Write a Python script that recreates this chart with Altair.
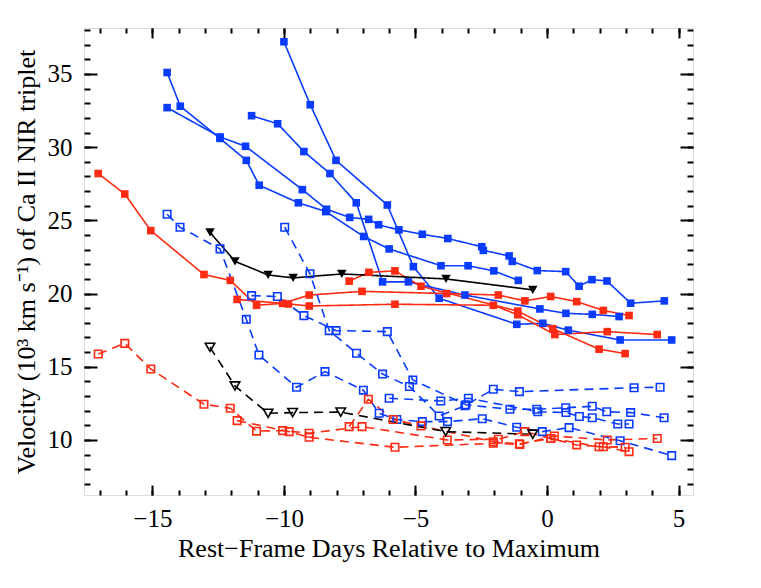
import altair as alt
import pandas as pd

# ---- blue, solid lines, filled squares ----
b1_day = [-14.44, -13.94, -12.43, -11.43, -10.94, -9.45, -8.41, -6.97, -6.0, -4.03, -3.0, -2.02, -1.09]
b1_vel = [35.1, 32.8, 30.6, 29.1, 27.4, 26.2, 25.6, 23.9, 23.05, 21.9, 21.9, 21.55, 20.9]
b2_day = [-14.44, -12.43, -11.46, -9.3, -8.38, -7.5, -6.78, -6.4, -5.63, -4.74, -3.77, -2.48, -2.42,
          -1.44, -1.32, -0.37, 0.71, 1.22, 1.71, 2.28, 3.18, 4.46]
b2_vel = [32.7, 30.7, 30.06, 27.1, 25.76, 25.2, 25.07, 24.7, 24.35, 24.05, 23.76, 23.2, 22.95,
          22.57, 22.2, 21.57, 21.5, 20.5, 20.95, 20.86, 19.34, 19.5]
b3_day = [-11.23, -10.24, -9.24, -8.25, -7.25, -6.25, -5.27, -3.12, -0.27, 0.72, 1.72, 2.74]
b3_vel = [32.15, 31.6, 29.7, 28.2, 26.2, 20.8, 20.8, 19.9, 18.95, 18.65, 18.58, 18.43]
b4_day = [-10.0, -9.0, -8.02, -6.07, -5.08, -4.1, -1.15, -0.16, 0.81, 2.78, 4.74]
b4_vel = [37.2, 32.9, 29.1, 26.05, 21.84, 19.68, 17.9, 17.97, 17.5, 16.83, 16.83]

# ---- red, solid lines, filled squares ----
ra_day = [-17.06, -16.05, -15.06, -13.04, -12.04, -11.04, -10.05, -9.04, -7.03, -3.81, -1.85, -0.84,
          0.14, 1.13, 2.14, 3.12]
ra_vel = [28.2, 26.8, 24.3, 21.3, 20.9, 19.2, 19.33, 19.9, 20.15, 20.0, 19.9, 19.5,
          19.8, 19.45, 18.85, 18.5]
rb_day = [-11.78, -9.83, -9.04, -5.78, -2.04, -1.11, 0.3, 2.29, 4.19]
rb_vel = [19.6, 19.29, 19.15, 19.27, 19.2, 18.55, 17.2, 17.4, 17.2]
rc_day = [-7.52, -6.77, -5.78, -4.79, -1.11, 0.22, 1.98, 2.97]
rc_vel = [20.85, 21.45, 21.55, 20.5, 18.8, 17.6, 16.2, 15.9]

# ---- blue, dashed lines, open squares ----
bda_day = [-14.44, -13.95, -12.43, -11.43, -10.95, -9.52, -8.44, -6.98, -6.38, -5.71, -4.74, -3.78,
           -2.46, -1.15, -0.18, 0.84, 2.78, 4.74]
bda_vel = [25.42, 24.53, 23.05, 18.24, 15.8, 13.6, 14.67, 13.4, 11.82, 11.4, 11.25, 11.25,
           11.45, 10.87, 10.57, 10.84, 9.95, 8.93]
bdb_day = [-9.97, -9.01, -8.28, -7.24, -6.25, -5.23, -4.1, -3.12, -2.04, -1.05, 3.31, 4.3]
bdb_vel = [24.53, 21.35, 17.47, 15.92, 14.5, 13.65, 11.64, 12.34, 13.46, 13.3, 13.57, 13.6]
bdc_day = [-11.23, -10.25, -9.24, -8.02, -6.07, -5.1, -3.08, -1.41, -0.39, 0.71, 1.72, 2.27, 3.18, 4.45]
bdc_vel = [19.86, 19.8, 18.49, 17.47, 17.4, 14.1, 12.4, 12.1, 12.1, 12.2, 12.3, 11.93, 11.87, 11.52]
bdd_day = [-6.0, -4.04, -2.99, -0.35, 0.72, 1.23, 1.72, 2.69, 3.12]
bdd_vel = [12.85, 12.66, 12.85, 11.93, 11.87, 11.6, 11.52, 11.09, 11.09]

# ---- red, dashed lines, open squares ----
rda_day = [-17.06, -16.05, -15.06, -13.04, -12.04, -11.04, -10.05, -9.04, -7.03, -3.79, -1.85, -0.84,
           0.14, 1.13, 2.14, 3.12]
rda_vel = [15.87, 16.6, 14.85, 12.44, 12.17, 10.6, 10.64, 10.46, 10.91, 10.0, 10.05, 10.57,
           10.1, 9.66, 9.54, 9.2]
rdb_day = [-11.78, -9.8, -9.04, -5.78, -2.04, -1.03, 0.28, 2.29, 4.19]
rdb_vel = [11.32, 10.57, 10.18, 9.5, 9.77, 9.7, 10.27, 10.0, 10.1]
rdc_day = [-7.52, -6.79, -5.85, -4.79, -2.04, -1.05, 0.15, 1.98, 2.97]
rdc_vel = [10.91, 12.78, 11.4, 10.96, 9.88, 9.73, 10.1, 9.54, 9.5]

# ---- black, triangles ----
ks_day = [-12.81, -11.86, -10.6, -9.65, -7.8, -3.84, -0.54]
ks_vel = [24.18, 22.2, 21.27, 21.07, 21.34, 21.0, 20.25]
kd_day = [-12.81, -11.86, -10.6, -9.67, -7.84, -3.85, -0.54]
kd_vel = [16.33, 13.69, 11.82, 11.87, 11.9, 10.57, 10.39]

x_major = [-15, -10, -5, 0, 5]
x_minor = list(range(-17, 6))
y_major = [10, 15, 20, 25, 30, 35]
y_minor = list(range(7, 39))

series = [
    ("b1", "blue", "solid", b1_day, b1_vel), ("b2", "blue", "solid", b2_day, b2_vel),
    ("b3", "blue", "solid", b3_day, b3_vel), ("b4", "blue", "solid", b4_day, b4_vel),
    ("ra", "red", "solid", ra_day, ra_vel), ("rb", "red", "solid", rb_day, rb_vel),
    ("rc", "red", "solid", rc_day, rc_vel),
    ("bda", "blue", "dashed", bda_day, bda_vel), ("bdb", "blue", "dashed", bdb_day, bdb_vel),
    ("bdc", "blue", "dashed", bdc_day, bdc_vel), ("bdd", "blue", "dashed", bdd_day, bdd_vel),
    ("rda", "red", "dashed", rda_day, rda_vel), ("rdb", "red", "dashed", rdb_day, rdb_vel),
    ("rdc", "red", "dashed", rdc_day, rdc_vel),
    ("ks", "black", "solid", ks_day, ks_vel), ("kd", "black", "dashed", kd_day, kd_vel),
]
rows = []
for name, col, sty, days, vels in series:
    for i, (d, v) in enumerate(zip(days, vels)):
        rows.append(dict(s=name, c=col, k=sty, i=i, day=d, vel=v))
df = pd.DataFrame(rows)

FONT = "Liberation Serif"
xs = alt.Scale(domain=[-17.6, 5.55], nice=False, zero=False)
ys = alt.Scale(domain=[6.24, 38.14], nice=False, zero=False)
cs = alt.Scale(domain=["blue", "red", "black"], range=["#0a3cff", "#ff2a12", "#000000"])
ds = alt.Scale(domain=["solid", "dashed"], range=[[1, 0], [9, 6]])

base = alt.Chart(df)

lines = base.mark_line(strokeWidth=1.6, clip=True).encode(
    x=alt.X("day:Q", scale=xs, axis=alt.Axis(
        orient="bottom", values=x_major, ticks=False, tickSize=0, domain=False, grid=False,
        labelFont=FONT, labelFontSize=25, labelColor="black", labelPadding=11,
        title="Rest\u2212Frame Days Relative to Maximum", titleFont=FONT, titleFontSize=26,
        titleFontWeight="normal", titleColor="black", titlePadding=4)),
    y=alt.Y("vel:Q", scale=ys, axis=alt.Axis(
        orient="left", values=y_major, ticks=False, tickSize=0, domain=False, grid=False,
        labelFont=FONT, labelFontSize=25, labelColor="black", labelPadding=12,
        title="Velocity (10\u00b3 km s\u207b\u00b9) of Ca II NIR triplet", titleFont=FONT,
        titleFontSize=26, titleFontWeight="normal", titleColor="black", titlePadding=8)),
    color=alt.Color("c:N", scale=cs, legend=None),
    strokeDash=alt.StrokeDash("k:N", scale=ds, legend=None),
    detail="s:N",
    order="i:Q",
)

def tick_layer(xorient, xvals, xlen, yorient, yvals, ylen):
    return base.mark_point(opacity=0).encode(
        x=alt.X("day:Q", scale=xs, axis=alt.Axis(
            orient=xorient, values=xvals, tickSize=xlen, offset=-xlen, labels=False,
            domain=False, grid=False, title=None, tickColor="black", tickWidth=2)),
        y=alt.Y("vel:Q", scale=ys, axis=alt.Axis(
            orient=yorient, values=yvals, tickSize=ylen, offset=-ylen, labels=False,
            domain=False, grid=False, title=None, tickColor="black", tickWidth=2)),
    )

t1 = tick_layer("bottom", x_major, 10, "left", y_major, 13)
t2 = tick_layer("bottom", x_minor, 5, "left", y_minor, 6)
t3 = tick_layer("top", x_major, 10, "right", y_major, 13)
t4 = tick_layer("top", x_minor, 5, "right", y_minor, 6)

enc = dict(
    x=alt.X("day:Q", scale=xs, axis=None),
    y=alt.Y("vel:Q", scale=ys, axis=None),
    color=alt.Color("c:N", scale=cs, legend=None),
)

filled_sq = base.transform_filter(
    "datum.k == 'solid' && datum.c != 'black'"
).mark_square(size=58, filled=True, opacity=1).encode(**enc)

open_sq = base.transform_filter(
    "datum.k == 'dashed' && datum.c != 'black'"
).mark_square(size=56, filled=False, strokeWidth=1.6, opacity=1).encode(**enc)

filled_tri = base.transform_filter(
    "datum.k == 'solid' && datum.c == 'black'"
).mark_point(shape="triangle-down", size=90, filled=True, opacity=1).encode(**enc)

open_tri = base.transform_filter(
    "datum.k == 'dashed' && datum.c == 'black'"
).mark_point(shape="triangle-down", size=90, filled=False, strokeWidth=1.6, opacity=1).encode(**enc)

chart = alt.layer(
    lines, t1, t2, t3, t4, filled_sq, open_sq, filled_tri, open_tri
).resolve_axis(
    x="independent", y="independent"
).properties(
    width=609, height=467,
    autosize=alt.AutoSizeParams(type="none"),
    padding={"left": 76, "top": 20, "right": 60, "bottom": 85},
).configure_view(
    stroke="black", strokeWidth=2
).configure(background="white")

chart.save("out.html", embed_options={"renderer": "svg", "actions": False})
